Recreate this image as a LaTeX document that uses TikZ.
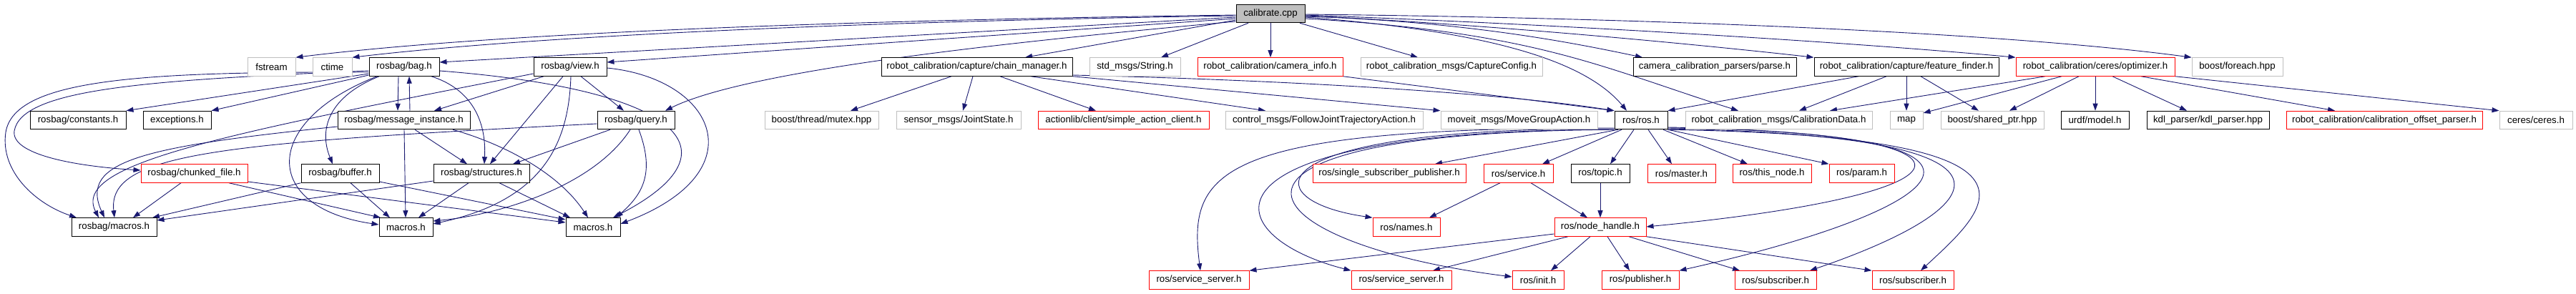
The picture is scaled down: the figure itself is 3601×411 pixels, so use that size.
\documentclass[tikz,border=0pt]{standalone}
\usepackage{fontspec}
\setmainfont{Liberation Sans}
\usetikzlibrary{arrows.meta,backgrounds}
\definecolor{edgeblue}{HTML}{191970}
\definecolor{grayb}{HTML}{BFBFBF}
\begin{document}
\begin{tikzpicture}[x=1pt,y=-1pt,
  nb/.style={draw=black,line width=1pt,fill=white,minimum height=25.5pt,inner sep=0pt,font=\fontsize{13.3}{16}\selectfont},
  nr/.style={nb,draw=red},
  ng/.style={nb,draw=grayb},
  edg/.style={draw=edgeblue,line width=0.9pt,-{Triangle[length=10pt,width=7pt]}}]
\useasboundingbox (0,0) rectangle (3601,411);
% row 1
\node[nb,fill=grayb,minimum width=96pt] (calib) at (1776,19) {calibrate.cpp};
% row 2
\node[ng,minimum width=67pt] (fstream) at (379.5,93.5) {fstream};
\node[ng,minimum width=55pt] (ctime) at (464.5,93.5) {ctime};
\node[nb,minimum width=98pt] (bag) at (565,93.5) {rosbag/bag.h};
\node[nb,minimum width=102pt] (view) at (797,93.5) {rosbag/view.h};
\node[nb,minimum width=267pt] (chain) at (1365.5,93.5) {robot\_calibration/capture/chain\_manager.h};
\node[ng,minimum width=127pt] (string) at (1586.5,93.5) {std\_msgs/String.h};
\node[nr,minimum width=203pt] (caminfo) at (1775.5,93.5) {robot\_calibration/camera\_info.h};
\node[ng,minimum width=254pt] (capcfg) at (2029,93.5) {robot\_calibration\_msgs/CaptureConfig.h};
\node[nb,minimum width=228pt] (parse) at (2397,93.5) {camera\_calibration\_parsers/parse.h};
\node[nb,minimum width=258pt] (ffinder) at (2665,93.5) {robot\_calibration/capture/feature\_finder.h};
\node[nr,minimum width=222pt] (optim) at (2929,93.5) {robot\_calibration/ceres/optimizer.h};
\node[ng,minimum width=127pt] (foreach) at (3127.5,93.5) {boost/foreach.hpp};
% row 3
\node[nb,minimum width=134pt] (constants) at (109,168) {rosbag/constants.h};
\node[nb,minimum width=95pt] (exceptions) at (247.5,168) {exceptions.h};
\node[nb,minimum width=185pt] (msginst) at (564.5,168) {rosbag/message\_instance.h};
\node[nb,minimum width=108pt] (query) at (889,168) {rosbag/query.h};
\node[ng,minimum width=159pt] (mutex) at (1148.5,168) {boost/thread/mutex.hpp};
\node[ng,minimum width=174pt] (jointstate) at (1340,168) {sensor\_msgs/JointState.h};
\node[nr,minimum width=239pt] (sac) at (1570.5,168) {actionlib/client/simple\_action\_client.h};
\node[ng,minimum width=276pt] (fjta) at (1851,168) {control\_msgs/FollowJointTrajectoryAction.h};
\node[ng,minimum width=219pt] (mga) at (2123.5,168) {moveit\_msgs/MoveGroupAction.h};
\node[nb,minimum width=74pt] (ros) at (2294,168) {ros/ros.h};
\node[ng,minimum width=261pt] (caldata) at (2486.5,168) {robot\_calibration\_msgs/CalibrationData.h};
\node[ng,minimum width=46pt] (map) at (2665,168) {map};
\node[ng,minimum width=144pt] (sharedptr) at (2785,168) {boost/shared\_ptr.hpp};
\node[nb,minimum width=95pt] (urdf) at (2928.5,168) {urdf/model.h};
\node[nb,minimum width=171pt] (kdl) at (3086.5,168) {kdl\_parser/kdl\_parser.hpp};
\node[nr,minimum width=274pt] (offset) at (3333,168) {robot\_calibration/calibration\_offset\_parser.h};
\node[ng,minimum width=102pt] (ceres) at (3545,168) {ceres/ceres.h};
% row 4
\node[nr,minimum width=149pt] (chunked) at (271.5,242.5) {rosbag/chunked\_file.h};
\node[nb,minimum width=109pt] (buffer) at (475.5,242.5) {rosbag/buffer.h};
\node[nb,minimum width=134pt] (structures) at (673,242.5) {rosbag/structures.h};
\node[nr,minimum width=214pt] (ssp) at (1942,242.5) {ros/single\_subscriber\_publisher.h};
\node[nr,minimum width=97pt] (service) at (2122.5,242.5) {ros/service.h};
\node[nb,minimum width=82pt] (topic) at (2237,242.5) {ros/topic.h};
\node[nr,minimum width=95pt] (master) at (2350.5,242.5) {ros/master.h};
\node[nr,minimum width=110pt] (thisnode) at (2477,242.5) {ros/this\_node.h};
\node[nr,minimum width=91pt] (param) at (2602.5,242.5) {ros/param.h};
% row 5
\node[nb,minimum width=119pt] (rmacros) at (159.5,317.5) {rosbag/macros.h};
\node[nb,minimum width=75pt] (macrosa) at (567.5,317.5) {macros.h};
\node[nb,minimum width=76pt] (macrosb) at (829,317.5) {macros.h};
\node[nr,minimum width=94pt] (names) at (1966,317.5) {ros/names.h};
\node[nr,minimum width=128pt] (nh) at (2237,317.5) {ros/node\_handle.h};
% row 6
\node[nr,minimum width=140pt] (ssa) at (1676,391.5) {ros/service\_server.h};
\node[nr,minimum width=140pt] (ssb) at (1959,391.5) {ros/service\_server.h};
\node[nr,minimum width=72pt] (init) at (2150,391.5) {ros/init.h};
\node[nr,minimum width=108pt] (publisher) at (2293,391.5) {ros/publisher.h};
\node[nr,minimum width=114pt] (suba) at (2482,391.5) {ros/subscriber.h};
\node[nr,minimum width=114pt] (subb) at (2674,391.5) {ros/subscriber.h};

\begin{pgfonlayer}{background}
% calibrate.cpp
\draw[edg] (calib.west |- 0,21) .. controls (1200,28) and (700,45) .. (fstream.north east);
\draw[edg] (calib.west |- 0,22) .. controls (1200,30) and (750,50) .. (ctime.north east);
\draw[edg] (calib.west |- 0,24) -- (bag.east |- 0,87);
\draw[edg] (calib.west |- 0,26) -- (view.east |- 0,87);
\draw[edg] (calib.west |- 0,30) .. controls (1450,55) and (1050,95) .. (930,0 |- query.north);
\draw[edg] (calib.west |- 0,28) -- (1433,0 |- chain.north);
\draw[edg] (1745,0 |- calib.south) -- (1623,0 |- string.north);
\draw[edg] (1776,0 |- calib.south) -- (1776,0 |- caminfo.north);
\draw[edg] (1817,0 |- calib.south) -- (1982,0 |- capcfg.north);
\draw[edg] (calib.east |- 0,24) .. controls (2100,45) and (2220,90) .. (2274,0 |- ros.north);
\draw[edg] (calib.east |- 0,26) .. controls (2150,45) and (2240,95) .. (2430,0 |- caldata.north);
\draw[edg] (calib.east |- 0,23) .. controls (2050,30) and (2200,60) .. (2296,0 |- parse.north);
\draw[edg] (calib.east |- 0,22) .. controls (2100,35) and (2400,65) .. (ffinder.north west);
\draw[edg] (calib.east |- 0,21) .. controls (2200,35) and (2600,60) .. (optim.north west);
\draw[edg] (calib.east |- 0,20) .. controls (2300,25) and (2800,45) .. (foreach.north west);
% rosbag/bag.h
\draw[edg] (557,0 |- bag.south) -- (556,0 |- msginst.north);
\draw[edg] (573,0 |- msginst.north) -- (572,0 |- bag.south);
\draw[edg] (603,0 |- bag.south) .. controls (660,125) and (680,170) .. (677,0 |- structures.north);
\draw[edg] (530,0 |- bag.south) .. controls (460,135) and (445,180) .. (465,0 |- buffer.north);
\draw[edg] (527,0 |- bag.south) .. controls (365,170) and (365,290) .. (macrosa.west |- 0,314);
\draw[edg] (bag.west |- 0,103) -- (constants.north east);
\draw[edg] (bag.west |- 0,105) -- (exceptions.north east);
\draw[edg] (bag.west |- 0,101) .. controls (200,100) and (20,110) .. (8,185) .. controls (0,240) and (50,285) .. (107,0 |- rmacros.north);
\draw[edg] (bag.west |- 0,99) .. controls (200,112) and (30,125) .. (20,183) .. controls (15,215) and (100,232) .. (chunked.west |- 0,238);
\draw[edg] (bag.east |- 0,99) .. controls (950,125) and (1040,210) .. (857,0 |- macrosb.north);
% rosbag/message_instance.h
\draw[edg] (msginst.west |- 0,177) .. controls (200,205) and (110,225) .. (146,0 |- rmacros.north);
\draw[edg] (565,0 |- msginst.south) -- (567,0 |- macrosa.north);
\draw[edg] (633,0 |- msginst.south) .. controls (700,200) and (780,240) .. (822,0 |- macrosb.north);
\draw[edg] (580,0 |- msginst.south) -- (653,0 |- structures.north);
% rosbag/view.h
\draw[edg] (view.west |- 0,103) .. controls (300,190) and (100,230) .. (138,0 |- rmacros.north);
\draw[edg] (760,0 |- view.south) -- (607,0 |- msginst.north);
\draw[edg] (812,0 |- view.south) -- (872,0 |- query.north);
\draw[edg] (787,0 |- view.south) -- (685,0 |- structures.north);
\draw[edg] (798,0 |- view.south) .. controls (795,200) and (760,280) .. (macrosa.east |- 0,313);
\draw[edg] (view.east |- 0,95) .. controls (1000,110) and (1060,240) .. (macrosb.east |- 0,313);
% rosbag/query.h
\draw[edg] (query.west |- 0,173) .. controls (300,200) and (150,215) .. (160,0 |- rmacros.north);
\draw[edg] (853,0 |- query.south) -- (717,0 |- structures.north);
\draw[edg] (881,0 |- query.south) .. controls (830,260) and (700,300) .. (macrosa.east |- 0,309);
\draw[edg] (893,0 |- query.south) .. controls (915,240) and (900,270) .. (861,0 |- macrosb.north);
% chunked, buffer, structures
\draw[edg] (253,0 |- chunked.south) -- (186,0 |- rmacros.north);
\draw[edg] (320,0 |- chunked.south) -- (532,0 |- macrosa.north);
\draw[edg] (chunked.east |- 0,254) -- (macrosb.west |- 0,311);
\draw[edg] (buffer.south west) -- (213,0 |- rmacros.north);
\draw[edg] (490,0 |- buffer.south) -- (545,0 |- macrosa.north);
\draw[edg] (buffer.east |- 0,254) -- (macrosb.west |- 0,307);
\draw[edg] (structures.west |- 0,253) -- (rmacros.east |- 0,308);
\draw[edg] (655,0 |- structures.south) -- (585,0 |- macrosa.north);
\draw[edg] (698,0 |- structures.south) -- (797,0 |- macrosb.north);
% chain_manager.h
\draw[edg] (1330,0 |- chain.south) -- (1189,0 |- mutex.north);
\draw[edg] (1360,0 |- chain.south) -- (1346,0 |- jointstate.north);
\draw[edg] (1398,0 |- chain.south) -- (1532,0 |- sac.north);
\draw[edg] (1441,0 |- chain.south) -- (1769,0 |- fjta.north);
\draw[edg] (chain.south east) -- (mga.north west);
\draw[edg] (chain.east |- 0,105) .. controls (1800,112) and (2100,130) .. (ros.north west);
\draw[edg] (caminfo.south east) -- (ros.north west);
% feature_finder.h
\draw[edg] (2598,0 |- ffinder.south) -- (ros.north east);
\draw[edg] (2637,0 |- ffinder.south) -- (2515,0 |- caldata.north);
\draw[edg] (2665,0 |- ffinder.south) -- (map.north);
\draw[edg] (2685,0 |- ffinder.south) -- (2766,0 |- sharedptr.north);
% optimizer.h
\draw[edg] (2859,0 |- optim.south) -- (2558,0 |- caldata.north);
\draw[edg] (2882,0 |- optim.south) -- (map.east |- 0,158);
\draw[edg] (2906,0 |- optim.south) -- (2809,0 |- sharedptr.north);
\draw[edg] (2929,0 |- optim.south) -- (2929,0 |- urdf.north);
\draw[edg] (2953,0 |- optim.south) -- (3057,0 |- kdl.north);
\draw[edg] (2993,0 |- optim.south) -- (3264,0 |- offset.north);
\draw[edg] (optim.south east) -- (ceres.north west);
% ros/ros.h
\draw[edg] (2262,0 |- ros.south) -- (2006,0 |- ssp.north);
\draw[edg] (2267,0 |- ros.south) -- (2156,0 |- service.north);
\draw[edg] (2284,0 |- ros.south) -- (2251,0 |- topic.north);
\draw[edg] (2304,0 |- ros.south) -- (2337,0 |- master.north);
\draw[edg] (2325,0 |- ros.south) -- (2443,0 |- thisnode.north);
\draw[edg] (ros.south east) -- (param.north west);
\draw[edg] (ros.west |- 0,180) .. controls (1750,178) and (1750,280) .. (names.north west);
\draw[edg] (ros.west |- 0,179) .. controls (1700,178) and (1660,240) .. (1678,0 |- ssa.north);
\draw[edg] (ros.west |- 0,181) .. controls (1650,182) and (1700,330) .. (ssb.north west);
\draw[edg] (ros.south west) .. controls (1620,185) and (1740,340) .. (init.west |- 0,387);
\draw[edg] (ros.east |- 0,178) .. controls (2800,185) and (2790,270) .. (nh.east |- 0,317);
\draw[edg] (ros.east |- 0,179) .. controls (2900,185) and (2700,300) .. (publisher.north east);
\draw[edg] (ros.east |- 0,180) .. controls (2900,190) and (2760,300) .. (2530,0 |- suba.north);
\draw[edg] (ros.south east) .. controls (2900,190) and (2780,290) .. (2685,0 |- subb.north);
% service.h, topic.h
\draw[edg] (2097,0 |- service.south) -- (1998,0 |- names.north);
\draw[edg] (2140,0 |- service.south) -- (2219,0 |- nh.north);
\draw[edg] (2237,0 |- topic.south) -- (2237,0 |- nh.north);
% node_handle.h
\draw[edg] (nh.west |- 0,327) -- (ssa.north east);
\draw[edg] (2192,0 |- nh.south) -- (2003,0 |- ssb.north);
\draw[edg] (2223,0 |- nh.south) -- (2168,0 |- init.north);
\draw[edg] (2247,0 |- nh.south) -- (2278,0 |- publisher.north);
\draw[edg] (2277,0 |- nh.south) -- (2432,0 |- suba.north);
\draw[edg] (nh.south east) -- (subb.north west);
\end{pgfonlayer}
\end{tikzpicture}
\end{document}
